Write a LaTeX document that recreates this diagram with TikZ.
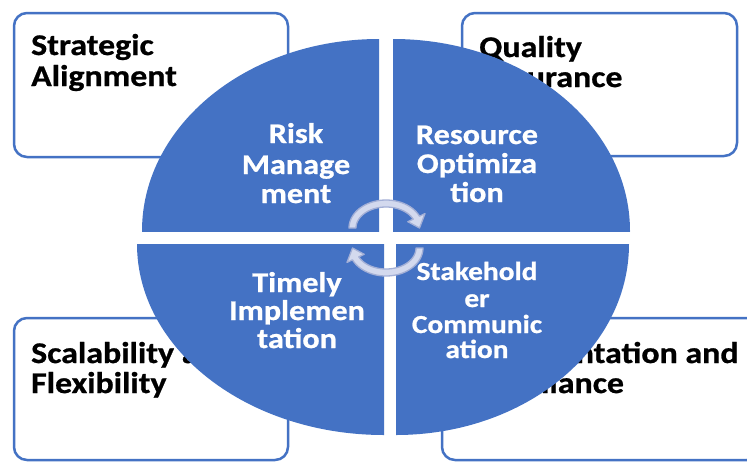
\documentclass[tikz,border=0pt]{standalone}
\usepackage{fontspec}
\setmainfont{Carlito}
\newfontfamily\labelfont[FakeStretch=1.13,FakeBold=0.8]{Carlito}
\definecolor{quadblue}{HTML}{4472C4}
\definecolor{arrowfill}{HTML}{D3D9EE}
\definecolor{arrowline}{HTML}{A3AFD6}

\begin{document}
\begin{tikzpicture}[x=1pt,y=-1pt,
  cornerbox/.style={draw=quadblue, line width=2.5pt, rounded corners=13pt},
  boxtext/.style={anchor=base west, inner sep=0pt, text=black,
    font=\labelfont\bfseries\fontsize{30}{31}\selectfont},
  quadtext/.style={anchor=base, inner sep=0pt, text=white,
    font=\labelfont\bfseries\fontsize{28.5}{30}\selectfont},
  smallquadtext/.style={quadtext, text height=0.66em, text depth=0.12em,
    font=\labelfont\bfseries\fontsize{26}{26}\selectfont},
  cyclearrow/.style={fill=arrowfill, draw=arrowline, line width=1.3pt, line join=round}]

\useasboundingbox (0,0) rectangle (747,461);
\fill[white] (0,0) rectangle (747,461);
\clip (0,0) rectangle (747,461);

% corner boxes
\draw[cornerbox] (14,13) rectangle (288,157);
\draw[cornerbox] (462,13) rectangle (737,156);
\draw[cornerbox] (14,318) rectangle (288,460);
\draw[cornerbox] (442,318) rectangle (760,460);

\node[boxtext] (sa1) at (31,55) {Strategic};
\node[boxtext] (sa2) at (31,86) {Alignment};
\node[boxtext] (qa1) at (479,57) {Quality};
\node[boxtext] (qa2) at (479,87) {Assurance};
\node[boxtext] (sf1) at (31,363) {Scalability and};
\node[boxtext] (sf2) at (31,393) {Flexibility};
\node[boxtext] (dc1) at (459,363) {Documentation and};
\node[boxtext] (dc2) at (459,393) {Compliance};

% the four quarters of the split ellipse
\begin{scope}
  \clip (379,231) rectangle (100,0);
  \fill[quadblue] (379,231) ellipse [x radius=237, y radius=192];
\end{scope}
\begin{scope}
  \clip (393,231) rectangle (700,0);
  \fill[quadblue] (393,231) ellipse [x radius=237, y radius=192];
\end{scope}
\begin{scope}
  \clip (384,244) rectangle (100,500);
  \fill[quadblue] (384,244) ellipse [x radius=247, y radius=191];
\end{scope}
\begin{scope}
  \clip (396,244) rectangle (700,500);
  \fill[quadblue] (396,244) ellipse [x radius=233, y radius=191];
\end{scope}

\node[quadtext] (rm1) at (296,143) {Risk};
\node[quadtext] (rm2) at (296,174) {Manage};
\node[quadtext] (rm3) at (296,203) {ment};
\node[quadtext] (ro1) at (477,144) {Resource};
\node[quadtext] (ro2) at (477,173) {Optimiza};
\node[quadtext] (ro3) at (477,202) {tion};
\node[quadtext] (ti1) at (297,292) {Timely};
\node[quadtext] (ti2) at (297,320) {Implemen};
\node[quadtext] (ti3) at (297,348) {tation};
\node[smallquadtext] (sc1) at (477,280) {Stakehold};
\node[smallquadtext] (sc2) at (477,307) {er};
\node[smallquadtext] (sc3) at (477,333) {Communic};
\node[smallquadtext] (sc4) at (477,358) {ation};

% circular arrows in the middle
\draw[cyclearrow]
  plot[domain=180:335, samples=40, variable=\t] ({386+37*cos(\t)},{228+28*sin(\t)})
  -- (425,213.6) -- (419.5,228) -- (407.8,221.7)
  -- plot[domain=335:180, samples=40, variable=\t] ({386+30*cos(\t)},{228+21*sin(\t)})
  -- cycle;
\draw[cyclearrow]
  plot[domain=0:155, samples=40, variable=\t] ({386+37*cos(\t)},{248+28*sin(\t)})
  -- (347,262.4) -- (352.5,248) -- (364.2,254.3)
  -- plot[domain=155:0, samples=40, variable=\t] ({386+30*cos(\t)},{248+21*sin(\t)})
  -- cycle;
\end{tikzpicture}
\end{document}
